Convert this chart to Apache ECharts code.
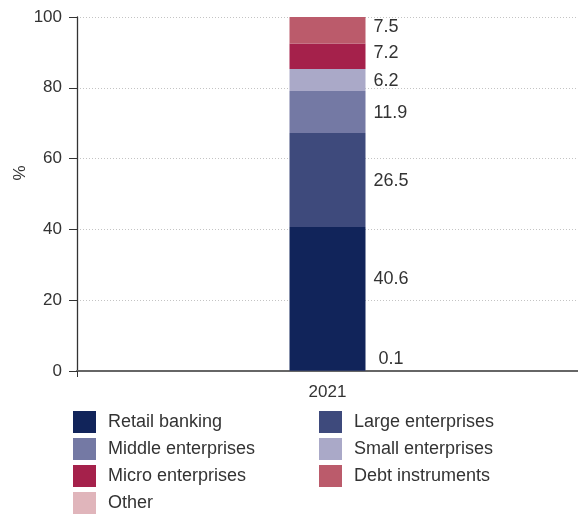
<!DOCTYPE html>
<html>
<head>
<meta charset="utf-8">
<script src="https://cdn.jsdelivr.net/npm/echarts@6/dist/echarts.min.js"></script>
<style>
  html, body { margin: 0; padding: 0; background: #fff; }
  #chart { width: 578px; height: 515px; }
</style>
</head>
<body>
<div id="chart"></div>
<script>
// Loan portfolio split by segment, 2021 (% of total)
const categories = ['2021'];
const yTicks = [0, 20, 40, 60, 80, 100];

// Stack order, bottom to top
const seriesNames = ['Other', 'Retail banking', 'Large enterprises', 'Middle enterprises',
                     'Small enterprises', 'Micro enterprises', 'Debt instruments'];
const otherValues = [0.1];
const retailValues = [40.6];
const largeValues = [26.5];
const middleValues = [11.9];
const smallValues = [6.2];
const microValues = [7.2];
const debtValues = [7.5];

const seriesValues = [otherValues, retailValues, largeValues, middleValues,
                      smallValues, microValues, debtValues];
const seriesColors = ['#e0b5bb', '#11245a', '#3e4a7c', '#7479a4', '#aaa9c8', '#a5214b', '#bb5b6b'];
// label nudges so the small segments' values don't collide
const labelOffsets = [[5, -12], [0, -20], [0, 1], [0, 1], [0, 1], [0, -3], [0, -3]];

const legendLeft = ['Retail banking', 'Middle enterprises', 'Micro enterprises', 'Other'];
const legendRight = ['Large enterprises', 'Small enterprises', 'Debt instruments'];

const FONT = '"Liberation Sans", Arial, sans-serif';
const TEXT = '#333333';

const chart = echarts.init(document.getElementById('chart'), null, { renderer: 'canvas' });

const legendCommon = {
  orient: 'vertical',
  top: 411,
  height: 110,
  padding: 0,
  itemWidth: 23,
  itemHeight: 22,
  itemGap: 5,
  icon: 'rect',
  selectedMode: false,
  textStyle: { fontFamily: FONT, fontSize: 18, color: TEXT, padding: [0, 0, 0, 7] }
};

chart.setOption({
  animation: false,
  textStyle: { fontFamily: FONT },
  grid: { left: 77, right: 0, top: 17, bottom: 144, containLabel: false },
  legend: [
    Object.assign({}, legendCommon, { left: 73, data: legendLeft }),
    Object.assign({}, legendCommon, { left: 319, data: legendRight })
  ],
  xAxis: {
    type: 'category',
    data: categories,
    axisLine: { show: true, lineStyle: { color: '#666666', width: 2 } },
    axisTick: { show: true, length: 6, lineStyle: { color: '#333333', width: 1 } },
    axisLabel: { fontSize: 17, color: TEXT, margin: 13, fontFamily: FONT },
    splitLine: { show: false }
  },
  yAxis: {
    type: 'value',
    min: yTicks[0],
    max: yTicks[yTicks.length - 1],
    interval: yTicks[1] - yTicks[0],
    axisLine: { show: true, lineStyle: { color: '#333333', width: 1.3 } },
    axisTick: { show: true, length: 8, lineStyle: { color: '#333333', width: 1 } },
    axisLabel: { fontSize: 17, color: TEXT, margin: 15, fontFamily: FONT },
    splitLine: { show: true, lineStyle: { color: '#c4c4c4', type: [1, 2], width: 1 } }
  },
  graphic: [{
    type: 'text',
    x: 20,
    y: 173,
    rotation: Math.PI / 2,
    style: {
      text: '%',
      fill: TEXT,
      font: '17px ' + FONT,
      align: 'center',
      verticalAlign: 'middle'
    }
  }],
  series: seriesNames.map((name, i) => ({
    name: name,
    type: 'bar',
    stack: 'total',
    barWidth: 76,
    data: seriesValues[i],
    itemStyle: { color: seriesColors[i] },
    label: {
      show: true,
      position: 'right',
      distance: 8,
      offset: labelOffsets[i],
      fontSize: 18,
      color: TEXT,
      fontFamily: FONT,
      formatter: p => p.value.toFixed(1)
    }
  }))
});
</script>
</body>
</html>
